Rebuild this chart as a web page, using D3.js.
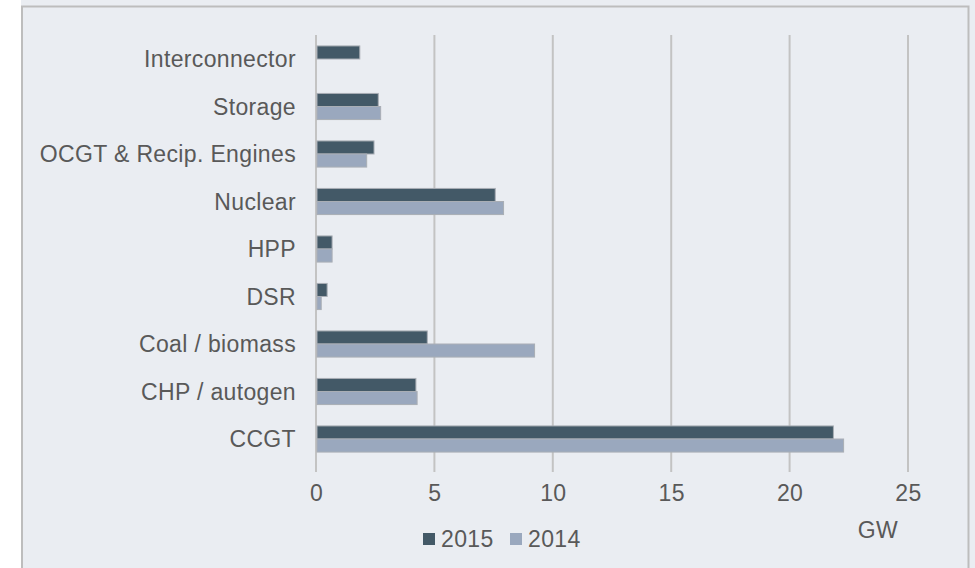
<!DOCTYPE html>
<html><head><meta charset="utf-8">
<script src="https://cdn.jsdelivr.net/npm/d3@7"></script>
<style>
html,body{margin:0;padding:0;background:#fff;}
svg{display:block;}
text{font-family:"Liberation Sans",Arial,sans-serif;fill:#595959;}
</style></head>
<body>
<svg id="chart" width="975" height="568"></svg>
<script>
const categories = ["Interconnector","Storage","OCGT & Recip. Engines","Nuclear","HPP","DSR","Coal / biomass","CHP / autogen","CCGT"];
const seriesNames = ["2015","2014"];
const values2015 = [1.85, 2.63, 2.45, 7.57, 0.68, 0.47, 4.70, 4.22, 21.85];
const values2014 = [null, 2.73, 2.14, 7.92, 0.68, 0.22, 9.23, 4.27, 22.28];
const xTicks = [0,5,10,15,20,25];
const unitLabel = "GW";
const colors = {"2015":"#435967","2014":"#9aa8be"};

const svg = d3.select("#chart");
svg.append("rect").attr("x",21).attr("y",0).attr("width",954).attr("height",568).attr("fill","#eaedf2");
svg.append("rect").attr("x",22).attr("y",6.5).attr("width",946.5).attr("height",580)
  .attr("fill","#eaedf2").attr("stroke","#bdbdbd").attr("stroke-width",2);

const x = d3.scaleLinear().domain([0,25]).range([316,908]);
const y = d3.scaleBand().domain(categories).range([35.25,462.75]).paddingInner(0.45).paddingOuter(0.225);
const inner = d3.scaleBand().domain(seriesNames).range([0,y.bandwidth()]);

const fontCss = "font-size:23px;letter-spacing:0.35px;";

const xAxis = d3.axisBottom(x).tickValues(xTicks).tickSize(0).tickPadding(0).tickFormat(d3.format("d"));
const gx = svg.append("g").attr("transform","translate(0,472)").call(xAxis);
gx.select(".domain").remove();
gx.selectAll("text").attr("y",21).attr("dy","0.35em").attr("style",fontCss).attr("fill","#595959");
svg.append("g").selectAll("line").data(xTicks).join("line")
  .attr("x1",d=>x(d)).attr("x2",d=>x(d)).attr("y1",35).attr("y2",472)
  .attr("stroke","#c3c3c3").attr("stroke-width",2);

const data = categories.map((c,i)=>({cat:c, vals:[{s:"2015",v:values2015[i]},{s:"2014",v:values2014[i]}]}));
const g = svg.append("g");
data.forEach(d=>{
  d.vals.forEach(e=>{
    if(e.v==null) return;
    g.append("rect")
      .attr("x",x(0)+1).attr("y",y(d.cat)+inner(e.s))
      .attr("width",x(e.v)-x(0)-1).attr("height",inner.bandwidth())
      .attr("fill",colors[e.s]).attr("stroke","#a9aeb5").attr("stroke-width",1);
  });
});

const yAxis = d3.axisLeft(y).tickSize(0).tickPadding(0);
const gy = svg.append("g").attr("transform","translate(296,0)").call(yAxis);
gy.select(".domain").remove();
gy.selectAll("text").attr("x",0).attr("dy","0.35em").attr("style",fontCss).attr("fill","#595959").attr("text-anchor","end");

svg.append("text").attr("x",878).attr("y",530).attr("dy","0.35em").attr("text-anchor","middle").attr("style",fontCss).text(unitLabel);

const legendPos = [{s:"2015",x:423},{s:"2014",x:510}];
const lg = svg.append("g");
legendPos.forEach(l=>{
  lg.append("rect").attr("x",l.x).attr("y",533).attr("width",12).attr("height",12).attr("fill",colors[l.s]);
  lg.append("text").attr("x",l.x+18).attr("y",539).attr("dy","0.35em").attr("style",fontCss).text(l.s);
});
</script>
</body></html>
